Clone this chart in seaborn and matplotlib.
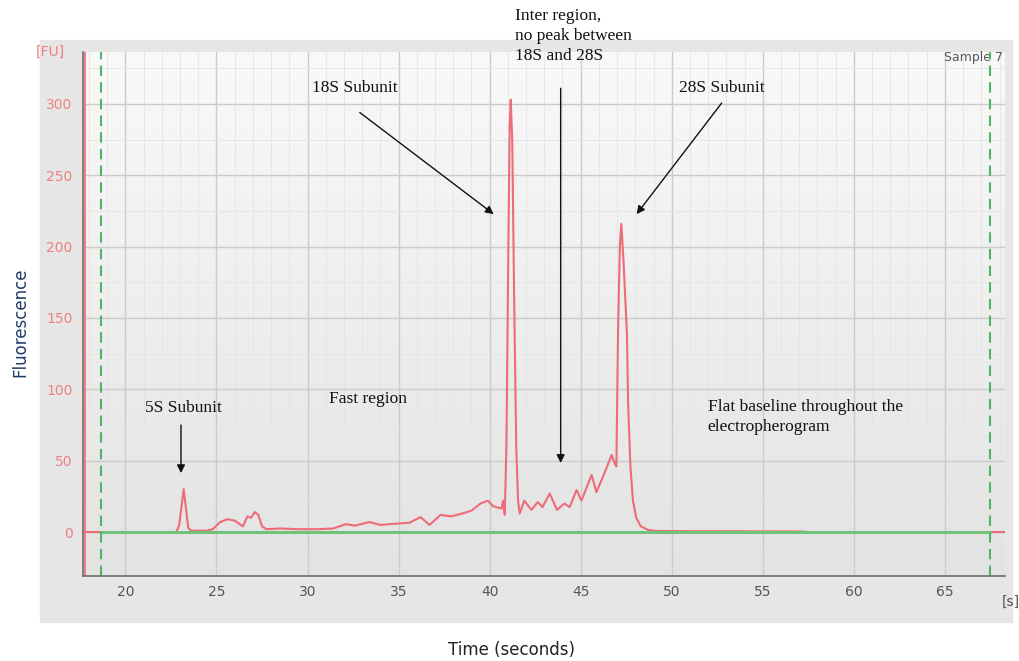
import numpy as np
import matplotlib
matplotlib.use("Agg")
import matplotlib.pyplot as plt
from matplotlib.patches import Rectangle
from matplotlib.ticker import MultipleLocator
import seaborn as sns

# Electropherogram trace (time in s, fluorescence in FU)
time_s = [17.4, 22.8, 22.95, 23.2, 23.45, 23.6, 24.5, 24.8, 25.2, 25.6, 26.0, 26.45,
          26.7, 26.9, 27.1, 27.3, 27.5, 27.75, 28.5, 29.5, 30.5, 31.4, 32.1, 32.6,
          33.4, 34.0, 35.0, 35.6, 36.2, 36.7, 37.3, 37.9, 38.5, 39.0, 39.5, 39.9,
          40.2, 40.65, 40.74, 40.83, 40.92, 41.02, 41.1, 41.16, 41.24, 41.34, 41.46,
          41.56, 41.65, 41.9, 42.3, 42.64, 42.9, 43.3, 43.7, 44.1, 44.4, 44.77,
          45.04, 45.6, 45.86, 46.2, 46.7, 46.87, 46.96, 47.05, 47.15, 47.23, 47.35,
          47.54, 47.6, 47.73, 47.87, 48.05, 48.3, 48.7, 49.2, 57.0, 57.5, 68.3]
fluor = [0, 0, 5, 30, 3, 1, 1, 2, 7, 9, 8, 4,
         11, 10, 14, 12, 4, 2, 2.5, 2, 2, 2.5, 5.5, 4.5,
         7, 5, 6, 6.5, 10.5, 5, 12, 11, 13, 15, 20, 22,
         18, 16.5, 22, 12, 60, 190, 285, 303, 275, 170, 60,
         22, 13, 22, 15.5, 21, 17.5, 27, 15.5, 20, 17.5, 29.5,
         22, 40, 28, 38, 54, 48, 46, 140, 200, 216, 190,
         139, 92, 46, 22, 10, 4, 1.5, 0.7, 0.4, 0, 0]

x_ticks = [20, 25, 30, 35, 40, 45, 50, 55, 60, 65]
y_ticks = [0, 50, 100, 150, 200, 250, 300]
run_window = [18.65, 67.5]   # green dashed markers
red_axis_x = 17.78

sns.set_style("white")
plt.rcParams['font.family'] = ['DejaVu Sans']
plt.rcParams['xtick.minor.size'] = 0
plt.rcParams['ytick.minor.size'] = 0
plt.rcParams['xtick.minor.width'] = 0
plt.rcParams['ytick.minor.width'] = 0

fig = plt.figure(figsize=(10.2, 6.61), dpi=100)
fig.patch.set_facecolor("white")
fig.patches.append(Rectangle((40 / 1020, 1 - 622 / 661), 972 / 1020, 582 / 661,
                             transform=fig.transFigure, color="#e6e6e6", zorder=-5))

ax = fig.add_axes([83 / 1020, 1 - 576 / 661, 922 / 1020, 524 / 661])
ax.set_zorder(1)
ax.patch.set_alpha(0)
ax.set_xlim(17.67, 68.3)
ax.set_ylim(-30.8, 336.4)

# soft gradient background like the instrument software
grad = np.linspace(0, 1, 256).reshape(-1, 1)
ax.imshow(grad, extent=[17.67, 68.3, -30.8, 336.4], aspect="auto",
          cmap=matplotlib.colors.LinearSegmentedColormap.from_list(
              "bg", ["#e3e3e3", "#eeeeee", "#f9f9f9"]),
          origin="lower", zorder=0)

ax.xaxis.set_minor_locator(MultipleLocator(1))
ax.yaxis.set_minor_locator(MultipleLocator(25))
ax.grid(which="major", color="#cbcbcb", lw=1.0, zorder=1)
ax.grid(which="minor", color="#e4e4e4", lw=0.6, zorder=1)
ax.set_axisbelow(False)

ax.set_xticks(x_ticks)
ax.set_yticks(y_ticks)
ax.tick_params(axis="x", which="major", direction="inout", length=7, colors="#666666",
               labelcolor="#555555", labelsize=10, pad=3)
ax.tick_params(axis="y", which="major", direction="out", length=4, colors="#666666",
               labelcolor="#f08080", labelsize=10)
ax.tick_params(axis="both", which="minor", length=0, width=0)

for side in ["top", "right"]:
    ax.spines[side].set_visible(False)
for side in ["left", "bottom"]:
    ax.spines[side].set_color("#6e6e6e")
    ax.spines[side].set_linewidth(1.2)
    ax.spines[side].set_zorder(7)

# trace
sns.lineplot(x=time_s, y=fluor, ax=ax, color="#ee6b78", lw=1.5, zorder=4,
             estimator=None, sort=False)
# baseline between run markers
sns.lineplot(x=run_window, y=[0, 0], ax=ax, color="#72c27a", lw=2.2, zorder=5,
             estimator=None)
for xv in run_window:
    ax.axvline(xv, color="#4fb565", lw=1.5, ls=(0, (5, 3)), zorder=6)
ax.axvline(red_axis_x, color="#f07a86", lw=1.4, zorder=6)

ax.text(-0.035, 1.0, "[FU]", transform=ax.transAxes, color="#f08080", fontsize=10,
        ha="center", va="center")
ax.text(1.006, -0.05, "[s]", transform=ax.transAxes, color="#555555", fontsize=10,
        ha="center", va="center")
ax.text(0.998, 0.99, "Sample 7", transform=ax.transAxes, color="#555555", fontsize=9,
        ha="right", va="center")

fig.text(20 / 1020, 1 - 322 / 661, "Fluorescence", rotation=90, color="#1f3a68",
         fontsize=12, ha="center", va="center")
fig.text(512 / 1020, 1 - 650 / 661, "Time (seconds)", color="#222222",
         fontsize=12, ha="center", va="center")

serif = dict(family="Liberation Serif", fontsize=12.5, color="#111111")
arrow = dict(arrowstyle="-|>", color="#111111", lw=1.0, mutation_scale=12,
             shrinkA=0, shrinkB=0)

ax.text(32.6, 311, "18S Subunit", ha="center", va="center", **serif)
ax.annotate("", xy=(40.22, 222.8), xytext=(32.87, 294), arrowprops=arrow)

ax.text(52.74, 311, "28S Subunit", ha="center", va="center", **serif)
ax.annotate("", xy=(48.07, 222.8), xytext=(52.74, 300.6), arrowprops=arrow)

ax.text(41.37, 367, "Inter region,\nno peak between\n18S and 28S", ha="left",
        va="top", linespacing=1.3, clip_on=False, **serif)
ax.annotate("", xy=(43.9, 48.4), xytext=(43.9, 311), arrowprops=arrow)

ax.text(23.16, 87, "5S Subunit", ha="center", va="center", **serif)
ax.annotate("", xy=(23.05, 41.3), xytext=(23.05, 75), arrowprops=arrow)

ax.text(33.3, 93, "Fast region", ha="center", va="center", **serif)
ax.text(51.97, 93, "Flat baseline throughout the\nelectropherogram", ha="left",
        va="top", linespacing=1.3, **serif)

fig.savefig("out.png", dpi=100, facecolor=fig.get_facecolor())
